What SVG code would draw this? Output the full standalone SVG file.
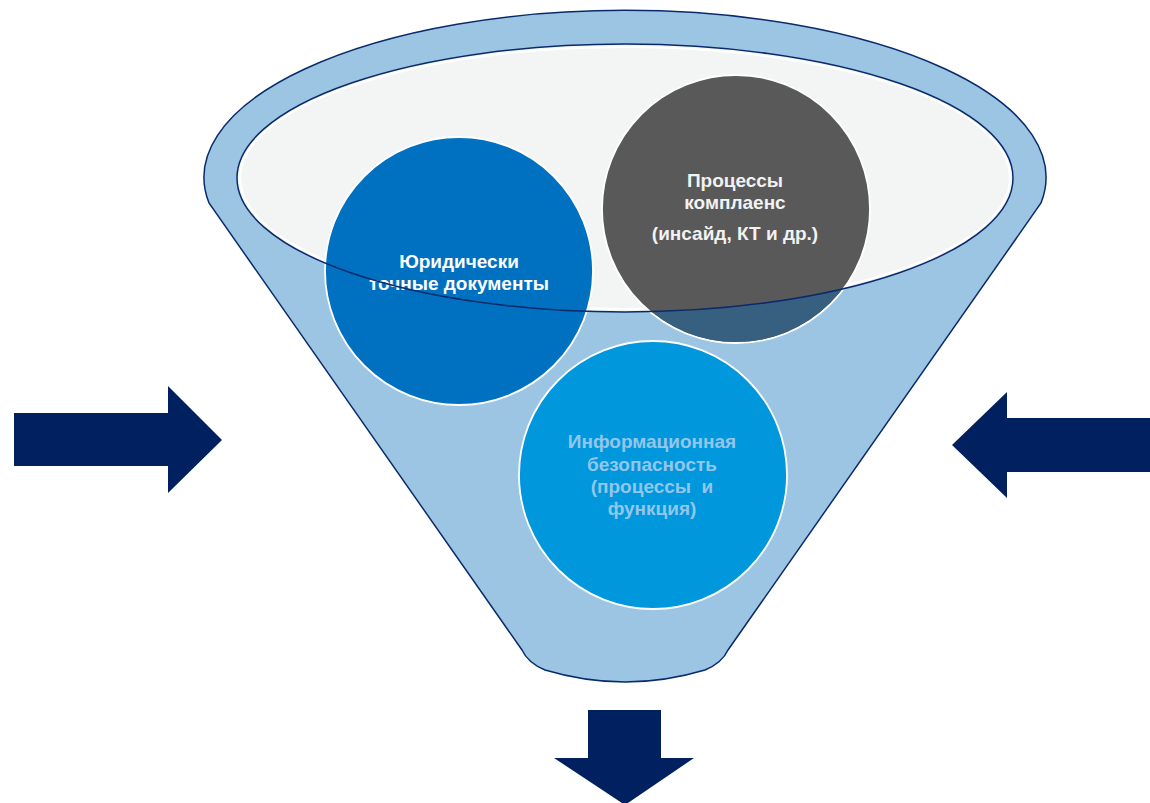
<svg xmlns="http://www.w3.org/2000/svg" width="1150" height="803" viewBox="0 0 1150 803">
<style>
.arrow{fill:#002060}
.lbl{font-family:"Liberation Sans",Arial,sans-serif;font-size:19px;font-weight:bold;text-anchor:middle}
.circ{stroke:#ffffff;stroke-width:1.8}
</style>
<defs>
<clipPath id="outside">
<path clip-rule="evenodd" d="M0 0H1150V803H0Z M237 178 A388 134 0 1 0 1013 178 A388 134 0 1 0 237 178 Z"/>
</clipPath>
</defs>
<rect width="1150" height="803" fill="#ffffff"/>
<g id="funnel">
<path d="M209 203 A421 167 0 1 1 1041 203 L728 650 Q722 663 705 670 Q625 694 545 670 Q528 663 522 650 Z" fill="#9BC5E3" stroke="#0A2A6B" stroke-width="1.5"/>
<ellipse cx="625" cy="178" rx="388" ry="134" fill="#F3F5F5"/>
<ellipse cx="625" cy="178" rx="385" ry="131" fill="none" stroke="#ffffff" stroke-width="2"/>
</g>
<g id="node-legal">
<circle class="circ" cx="459" cy="271" r="134" fill="#0070C0"/>
<text class="lbl" fill="#ffffff" x="459" y="268">Юридически</text>
<text class="lbl" fill="#ffffff" x="459" y="290">точные документы</text>
</g>
<g id="node-compliance">
<circle class="circ" cx="736" cy="209" r="134" fill="#595959"/>
<circle cx="736" cy="209" r="133" fill="#365F80" clip-path="url(#outside)"/>
<text class="lbl" fill="#F2F2F2" x="735" y="187">Процессы</text>
<text class="lbl" fill="#F2F2F2" x="735" y="209">комплаенс</text>
<text class="lbl" fill="#F2F2F2" x="735" y="240">(инсайд, КТ и др.)</text>
</g>
<g id="node-infosec">
<circle class="circ" cx="653" cy="475" r="134" fill="#0097DC"/>
<text class="lbl" fill="#93C6EA" x="652" y="448">Информационная</text>
<text class="lbl" fill="#93C6EA" x="652" y="471">безопасность</text>
<text class="lbl" fill="#93C6EA" x="652" y="493" xml:space="preserve">(процессы  и</text>
<text class="lbl" fill="#93C6EA" x="652" y="515">функция)</text>
</g>
<g id="rim">
<ellipse cx="625" cy="178" rx="388" ry="134" fill="none" stroke="#0A2A6B" stroke-width="1.5"/>
</g>
<g id="connectors">
<path class="arrow" d="M14 413 H168 V386 L222 440 L168 493 V466 H14 Z"/>
<path class="arrow" d="M1150 418 H1007 V392 L952 445 L1007 498 V472 H1150 Z"/>
<path class="arrow" d="M588 710 H661 V758 H694 L625 805 L554 758 H588 Z"/>
</g>
</svg>
